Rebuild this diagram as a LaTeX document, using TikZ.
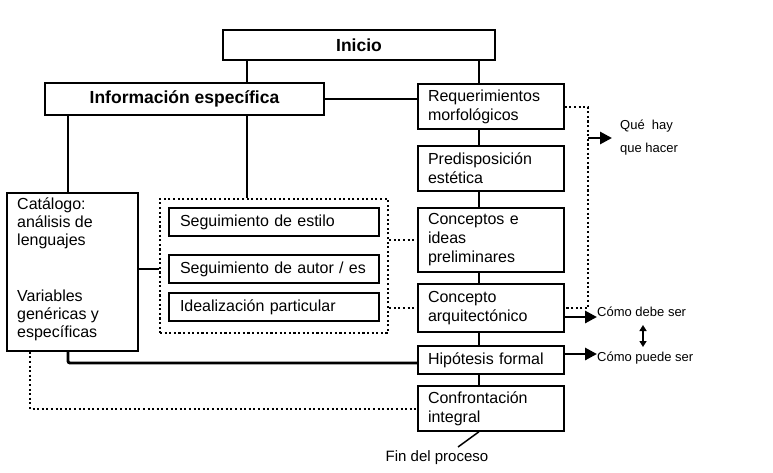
\documentclass[tikz,border=0pt]{standalone}
\usepackage{fontspec}
\setmainfont{Liberation Sans}
\usetikzlibrary{arrows.meta}
\begin{document}
\begin{tikzpicture}[x=1pt,y=-1pt,
  box/.style={draw,line width=1.4pt,rectangle,inner sep=0pt},
  tbox/.style={box,minimum width=146pt,text width=126pt,align=left,
    font=\fontsize{16}{19}\selectfont},
  ibox/.style={box,minimum width=210pt,minimum height=28pt,text width=188pt,align=left,
    font=\fontsize{16}{19}\selectfont},
  hbox/.style={box,font=\bfseries\fontsize{17.5}{20}\selectfont},
  conn/.style={line width=2.9pt},
  thinl/.style={line width=1.3pt},
  dotl/.style={line width=2.3pt,dash pattern=on 2.1pt off 2.5pt},
  arr/.style={line width=2.9pt,-{Triangle[length=12pt,width=12pt]}},
  darr/.style={line width=1.6pt,{Triangle[length=6pt,width=7pt]}-{Triangle[length=6pt,width=7pt]}},
  small/.style={inner sep=0pt,anchor=west,font=\fontsize{13}{23}\selectfont,align=left},
  cattxt/.style={inner sep=0pt,anchor=north west,align=left,font=\fontsize{16}{18}\selectfont}
]
\useasboundingbox (0,0) rectangle (773,473);

% header boxes
\node[hbox,minimum width=272pt,minimum height=30pt] (ini) at (359,45) {Inicio};
\node[hbox,minimum width=279pt,minimum height=32pt] (info) at (184.5,99) {Información específica};

% right column
\node[tbox,minimum height=45pt] (req) at (491,106.5) {Requerimientos\\morfológicos};
\node[tbox,minimum height=45pt] (pre) at (491,168.5) {Predisposición\\estética};
\node[tbox,minimum height=64pt] (con) at (491,240) {Conceptos e\\ideas\\preliminares};
\node[tbox,minimum height=48pt] (arq) at (491,308) {Concepto\\arquitectónico};
\node[tbox,minimum height=28pt] (hip) at (491,360) {Hipótesis formal};
\node[tbox,minimum height=45pt] (conf) at (491,408.5) {Confrontación\\integral};

% catalogue
\node[box,minimum width=131pt,minimum height=158pt] (cat) at (72.5,272) {};
\node[cattxt] (cat1) at (17,198) {Catálogo:\\análisis de\\lenguajes};
\node[cattxt] (cat2) at (17,290) {Variables\\genéricas y\\específicas};

% dotted group
\node[dotl,draw,minimum width=228pt,minimum height=134pt,inner sep=0pt] (grp) at (274,266) {};
\node[ibox] (est) at (274,222) {Seguimiento de estilo};
\node[ibox] (aut) at (274,269) {Seguimiento de autor / es};
\node[ibox] (ide) at (274,307) {Idealización particular};

% side labels
\node[small] (que) at (620,138) {Qué\ \ hay\\que hacer};
\node[small] (debe) at (597,312) {Cómo debe ser};
\node[small] (puede) at (597,358) {Cómo puede ser};
\node[inner sep=0pt,font=\fontsize{15}{18}\selectfont] (fin) at (437,458) {Fin del proceso};
\coordinate (finend) at (458,447);

% solid connectors
\draw[conn] (ini.south -| 247,0) -- (info.north -| 247,0);
\draw[conn] (ini.south -| 479,0) -- (req.north -| 479,0);
\draw[conn] (info.east) -- (info.east -| req.west);
\draw[conn] (info.south -| 68,0) -- (cat.north -| 68,0);
\draw[conn] (info.south -| 247,0) -- (grp.north -| 247,0);
\draw[conn] (req.south -| 479,0) -- (pre.north -| 479,0);
\draw[conn] (pre.south -| 479,0) -- (con.north -| 479,0);
\draw[conn] (con.south -| 479,0) -- (arq.north -| 479,0);
\draw[conn] (arq.south -| 479,0) -- (hip.north -| 479,0);
\draw[conn] (hip.south -| 479,0) -- (conf.north -| 479,0);
\draw[conn,rounded corners=2pt] (cat.south -| 68,0) -- (68,363) -- (hip.west |- 0,363);
\draw[thinl] (cat.east |- 0,269) -- (grp.west |- 0,269);
\draw[line width=1.5pt] (conf.south -| 479,0) -- (finend);

% dotted connectors
\draw[dotl] (grp.east |- con.west) -- (con.west);
\draw[dotl] (grp.east |- arq.west) -- (arq.west);
\draw[dotl] (req.east |- 0,107) -- (588,107) -- (588,308) -- (arq.east);
\draw[dotl] (cat.south -| 30,0) -- (30,409) -- (conf.west |- 0,409);

% arrows
\draw[arr] (588,138) -- (que.west -| 612,0);
\draw[arr] (arq.east |- 0,317) -- (debe.west |- 0,317);
\draw[arr] (hip.east |- 0,354) -- (puede.west |- 0,354);
\draw[darr] (643,325) -- (643,347);
\end{tikzpicture}
\end{document}
